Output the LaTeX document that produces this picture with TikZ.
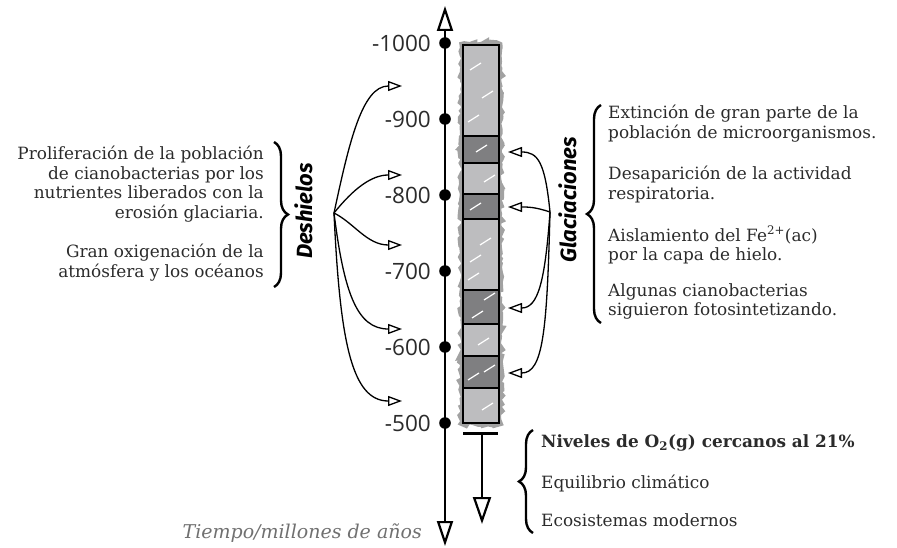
\documentclass[tikz,border=0pt]{standalone}
\usepackage{fontspec}
\setmainfont{DejaVu Serif}
\newfontfamily\numfont{Open Sans}
\newfontfamily\handfont{Fira Sans}
\usepackage{tikz}
\usetikzlibrary{arrows.meta,decorations.pathreplacing,decorations.pathmorphing}
\definecolor{inkgray}{HTML}{2B2B2B}
\definecolor{barlight}{HTML}{BDBDBF}
\definecolor{bardark}{HTML}{7F7F81}
\definecolor{barscrib}{HTML}{A2A2A2}
\definecolor{axisgray}{HTML}{707070}

\begin{document}
\begin{tikzpicture}[
			x=1pt, y=-1pt,
			txt/.style={
				inner sep=0pt,
				text=inkgray,
				font=\fontsize{16.9}{19.5}\selectfont
			},
			tick/.style={inner sep=0pt, text=inkgray, anchor=east, font=\numfont\fontsize{22.5}{24}\selectfont},
			hand/.style={inner sep=0pt, rotate=90, font=\handfont\bfseries\itshape\fontsize{22}{24}\selectfont},
			light/.style={fill=barlight, draw=black, line width=2.6pt},
			dark/.style={fill=bardark, draw=black, line width=2.6pt},
			scribble/.style={draw=barscrib, line width=7pt, decorate,
				decoration={random steps, segment length=3pt, amplitude=2pt}},
			curly/.style={decorate, decoration={brace, amplitude=14pt}, line width=2.4pt},
			link/.style={line width=1.3pt, -{Triangle[open, length=14pt, width=10pt]}},
			axisline/.style={line width=2.8pt,
				{Triangle[open, length=25pt, width=16pt, line width=2.2pt]}-{Triangle[open, length=25pt, width=16pt, line width=2.2pt]}},
			bigtip/.style={line width=2.8pt, -{Triangle[open, length=27pt, width=18pt, line width=2.2pt]}}
			]
			\useasboundingbox (0,0) rectangle (897,548);
			\pgfmathsetseed{7}
			
			% time axis
			\coordinate (axtop) at (445,6);
			\coordinate (axbot) at (445,546);
			\draw[axisline] (axbot) -- (axtop);
			\foreach \y/\v in {43/-1000, 119/-900, 195/-800, 271/-700, 347/-600, 423/-500} {
				\fill (445,\y) circle (5.8);
				\node[tick] (t\v) at (431,\y) {\v};
			}
			\node[anchor=east, inner sep=0pt, text=axisgray, font=\itshape\fontsize{19}{22}\selectfont] (tiempo) at (422,533) {Tiempo/millones de años};
			
			% column
			\draw[scribble] (463,45) rectangle (499,423);
			\foreach \ya/\yb/\kind in {45/136/light, 136/163/dark, 163/194/light, 194/219/dark,
				219/290/light, 290/324/dark, 324/356/light, 356/388/dark, 388/423/light}
				\draw[\kind] (463,\ya) rectangle (499,\yb);
			\foreach \x/\y in {470/70, 482/98, 468/122, 476/152, 484/182, 470/210, 480/245, 470/262,
				468/280, 484/300, 472/318, 478/345, 468/380, 484/372, 482/410}
				\draw[white, line width=1.2pt] (\x,\y) -- ++(11,-7);
			
			% present
			\coordinate (tl) at (463,433);
			\coordinate (tr) at (498,433);
			\coordinate (tmid) at (482,433);
			\coordinate (tend) at (482,524);
			\draw[line width=3pt] (tl) -- (tr);
			\draw[bigtip] (tmid) -- (tend);
			
			% Deshielos
			\coordinate (des) at (334,213);
			\coordinate (d1) at (402,86);
			\coordinate (d2) at (402,175);
			\coordinate (d3) at (402,245);
			\coordinate (d4) at (402,329);
			\coordinate (d5) at (402,401);
			\draw[link] (des) .. controls +(15,-70) and +(-40,0) .. (d1);
			\draw[link] (des) .. controls +(20,-25) and +(-30,0) .. (d2);
			\draw[link] (des) .. controls +(20,10) and +(-35,0) .. (d3);
			\draw[link] (des) .. controls +(10,80) and +(-45,0) .. (d4);
			\draw[link] (des) .. controls +(6,130) and +(-50,0) .. (d5);
			\node[hand] (deshielos) at (304,211) {Deshielos};
			\draw[curly] (274,142) -- (274,287);
			\node[txt, align=right, anchor=north east] (prolif) at (264,146)
			{Proliferación de la población\\de cianobacterias por los\\nutrientes liberados con la\\erosión glaciaria.};
			\node[txt, align=right, anchor=north east] (oxig) at (264,244)
			{Gran oxigenación de la\\atmósfera y los océanos};
			
			% Glaciaciones
			\coordinate (gla) at (550,212);
			\coordinate (g1) at (508,152);
			\coordinate (g2) at (508,207);
			\coordinate (g3) at (508,308);
			\coordinate (g4) at (508,373);
			\draw[link] (gla) .. controls +(-5,-50) and +(30,0) .. (g1);
			\draw[link] (gla) .. controls +(-15,-5) and +(20,0) .. (g2);
			\draw[link] (gla) .. controls +(-5,70) and +(30,0) .. (g3);
			\draw[link] (gla) .. controls +(-3,120) and +(35,0) .. (g4);
			\node[hand] (glaciaciones) at (568,200) {Glaciaciones};
			\draw[curly] (601,323) -- (601,105);
			\node[txt, align=left, anchor=north west] (extin) at (608,105)
			{Extinción de gran parte de la\\población de microorganismos.};
			\node[txt, align=left, anchor=north west] (desap) at (608,166)
			{Desaparición de la actividad\\respiratoria.};
			\node[txt, align=left, anchor=north west] (aisla) at (608,226)
			{Aislamiento del Fe\textsuperscript{2+}(ac)\\por la capa de hielo.};
			\node[txt, align=left, anchor=north west] (algun) at (608,283)
			{Algunas cianobacterias\\siguieron fotosintetizando.};
			
			% today
			\draw[curly] (533,533) -- (533,430);
			\node[txt, anchor=west, font=\bfseries\fontsize{16.9}{19.5}\selectfont] (nivel) at (541,443)
			{Niveles de O\textsubscript{2}(g) cercanos al 21\%};
			\node[txt, anchor=west] (equil) at (541,483) {Equilibrio climático};
			\node[txt, anchor=west] (ecosis) at (541,520) {Ecosistemas modernos};
			
		\end{tikzpicture}
\end{document}
